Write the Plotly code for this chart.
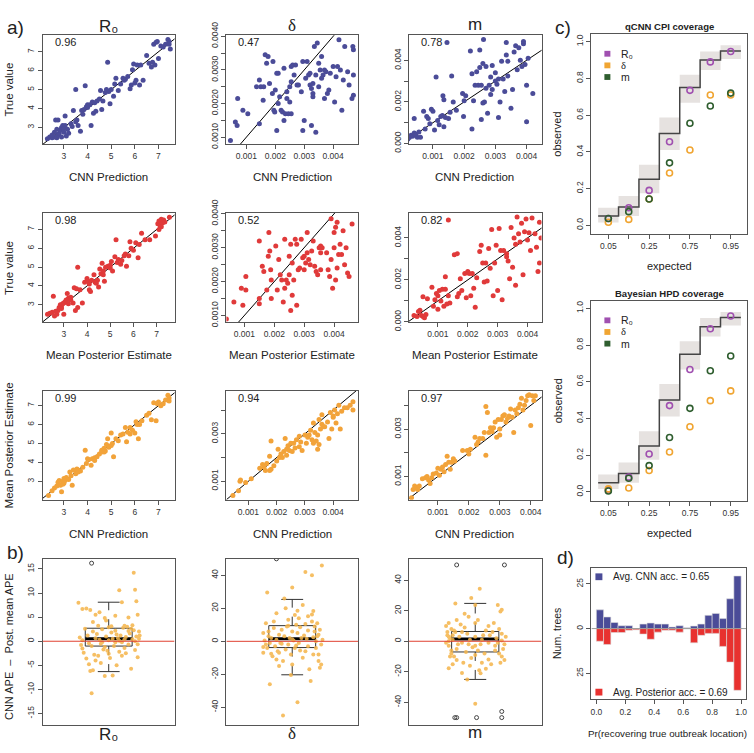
import plotly.graph_objects as go

W, H = 754, 753
FONT = "Liberation Sans, Arial, sans-serif"
SERIF = "Liberation Serif, Times New Roman, serif"
AX_COL = "#555555"
TXT = "#222222"
TICK_FONT = dict(family=FONT, size=8.5, color="#333333")

BLUE = "#4B4C98"
RED = "#E03A3A"
ORANGE = "#F2A33A"
JIT = "#F5B54A"
PURPLE = "#A050B0"
CORANGE = "#F0A532"
GREEN = "#2F5E2F"

# ---------------- DATA ----------------
# panel a, row 1: CNN prediction (x) vs true value (y)
r0_cnn_true = [(2.3,2.4),(2.4,2.5),(2.5,2.45),(2.6,2.5),(2.7,2.45),(2.75,2.6),(2.8,2.7),(2.6,2.75),(2.7,2.9),(2.65,3.4),
               (2.75,3.4),(2.85,2.85),(2.9,3.0),(2.95,3.1),(3.0,2.95),(3.05,3.1),(3.1,2.55),(3.0,2.75),(3.05,3.6),(3.2,2.7),
               (3.3,3.2),(3.35,3.05),(3.4,3.9),(3.5,3.3),(3.55,3.4),(3.5,5.0),(3.6,3.1),(3.7,2.8),(3.75,3.9),(3.85,3.95),
               (3.9,5.2),(3.95,4.1),(4.0,4.05),(4.1,4.2),(4.15,3.1),(4.2,4.35),(4.3,4.3),(4.25,3.75),(4.35,3.85),(4.4,4.4),
               (4.55,4.95),(4.6,3.95),(4.65,4.4),(4.75,4.85),(4.8,5.0),(4.85,6.45),(4.9,4.9),(4.95,4.25),(5.0,5.0),(5.1,4.65),
               (5.15,5.3),(5.2,5.6),(5.3,4.95),(5.4,5.3),(5.55,5.5),(5.6,5.55),(5.7,5.7),(5.8,5.05),(5.85,5.25),(5.9,6.05),
               (5.95,6.35),(6.0,5.35),(6.05,5.5),(6.1,6.3),(6.2,5.25),(6.25,6.3),(6.35,5.5),(6.5,6.8),(6.6,6.4),(6.7,6.2),
               (6.75,6.45),(6.8,7.4),(6.85,6.3),(6.9,7.5),(6.95,7.55),(7.0,6.65),(7.1,7.3),(7.2,7.25),(7.3,7.4),(7.4,7.65),
               (7.45,7.55),(7.5,7.15),(7.45,7.4),(2.5,2.6),(2.9,2.5),(3.15,2.9),(4.5,4.5),(5.5,5.6),(4.0,4.2),(3.8,3.7)]
# delta and m values are in units of 1e-3
delta_cnn_true = [(0.45,0.9),(0.62,1.45),(0.68,1.35),(0.7,2.15),(0.88,1.8),(1.05,1.7),(1.45,1.4),(1.35,2.5),(1.45,2.7),(1.5,2.5),
                  (1.6,2.5),(1.58,2.1),(1.65,3.45),(1.7,3.2),(1.75,3.4),(1.8,2.6),(1.9,2.3),(1.92,3.25),(1.95,1.8),(1.98,1.75),
                  (2.0,2.4),(2.05,1.2),(2.1,2.9),(2.1,2.0),(2.15,2.2),(2.2,1.8),(2.25,1.75),(2.3,1.5),(2.3,3.05),(2.35,1.7),
                  (2.4,2.35),(2.4,2.15),(2.45,1.7),(2.5,2.05),(2.5,2.5),(2.55,1.7),(2.55,2.65),(2.55,3.1),(2.6,3.15),(2.65,2.85),
                  (2.7,3.15),(2.75,2.55),(2.8,2.55),(2.9,2.35),(2.95,3.25),(2.95,1.2),(3.0,1.5),(3.05,2.75),(3.1,3.25),(3.15,2.85),
                  (3.2,2.9),(3.2,2.55),(3.25,2.45),(3.25,1.35),(3.3,2.3),(3.3,2.2),(3.35,3.7),(3.4,2.85),(3.4,1.15),(3.45,3.8),
                  (3.5,3.2),(3.5,2.5),(3.55,3.0),(3.6,3.4),(3.65,2.85),(3.7,2.15),(3.7,3.0),(3.75,2.95),(3.8,2.3),(3.85,2.4),
                  (3.9,2.9),(4.0,3.1),(4.05,2.05),(4.1,2.8),(4.15,3.1),(4.2,3.9),(4.25,3.0),(4.3,1.8),(4.35,2.7),(4.4,3.7),
                  (4.5,2.95),(4.55,2.55),(4.65,2.15),(4.7,3.6),(4.7,2.85),(4.7,2.25),(4.68,3.7),(2.05,2.9),(3.6,2.75),(3.3,2.6)]
m_cnn_true = [(0.2,0.2),(0.25,0.3),(0.3,0.4),(0.35,0.35),(0.4,0.5),(0.45,0.45),(0.5,0.3),(0.55,0.55),(0.4,1.2),(0.6,0.3),
              (0.7,1.55),(0.75,0.7),(0.8,1.3),(0.85,1.2),(0.9,0.95),(0.95,1.65),(1.0,1.55),(1.05,0.65),(1.1,3.2),(1.15,1.1),
              (1.2,0.9),(1.25,1.3),(1.3,1.35),(1.32,2.3),(1.35,2.1),(1.35,0.8),(1.4,1.25),(1.45,4.85),(1.5,1.2),(1.55,1.5),
              (1.6,3.25),(1.65,2.0),(1.75,1.6),(1.95,2.4),(1.98,1.3),(2.0,2.05),(2.05,2.3),(2.2,4.45),(2.25,3.35),(2.25,0.7),
              (2.3,2.05),(2.35,2.8),(2.4,3.45),(2.45,2.8),(2.5,4.5),(2.5,3.65),(2.55,2.8),(2.55,1.15),(2.6,3.85),(2.6,1.95),
              (2.62,5.0),(2.65,2.0),(2.7,3.7),(2.75,1.45),(2.8,2.8),(2.85,3.2),(2.85,2.35),(2.9,3.75),(2.9,2.6),(3.0,3.0),
              (3.05,2.85),(3.1,3.1),(3.1,1.25),(3.15,2.0),(3.2,3.95),(3.25,3.1),(3.3,2.5),(3.35,4.25),(3.35,4.85),(3.4,3.95),
              (3.5,1.7),(3.55,2.6),(3.6,4.4),(3.65,4.7),(3.7,3.55),(3.75,4.6),(3.8,4.0),(3.85,3.7),(3.9,4.8),(3.9,4.9),
              (3.95,3.8),(4.0,1.05),(4.0,2.8),(4.05,4.1),(4.2,2.4),(3.4,3.25),(3.0,3.4),(2.7,2.65)]

# panel a, row 2: mean posterior estimate (x) vs true value (y)
r0_post_true = [(2.3,2.5),(2.4,2.55),(2.5,2.6),(2.55,3.45),(2.6,2.4),(2.7,2.5),(2.75,2.7),(2.8,2.85),(2.85,3.0),(2.9,2.9),
                (2.95,3.05),(3.0,2.5),(3.05,3.15),(3.1,3.25),(3.15,3.6),(3.2,3.35),(3.3,3.4),(3.4,3.1),(3.45,3.9),(3.5,2.7),
                (3.55,3.85),(3.6,5.0),(3.6,2.85),(3.7,3.8),(3.8,3.1),(3.9,4.2),(4.0,4.4),(4.05,4.25),(4.1,3.8),(4.15,3.7),
                (4.2,4.3),(4.3,4.6),(4.35,4.2),(4.45,4.3),(4.5,3.95),(4.55,4.9),(4.6,4.65),(4.65,5.2),(4.7,4.8),(4.75,4.25),
                (4.8,5.0),(4.9,5.05),(5.0,4.95),(5.05,5.3),(5.1,4.8),(5.2,5.55),(5.25,6.45),(5.3,5.25),(5.35,5.4),(5.45,5.15),
                (5.5,5.35),(5.6,5.6),(5.65,5.7),(5.7,5.05),(5.8,5.6),(5.85,6.35),(5.9,6.0),(6.0,5.9),(6.1,6.3),(6.2,5.5),
                (6.25,6.2),(6.35,6.8),(6.5,6.45),(6.7,6.45),(6.95,6.65),(7.05,7.3),(7.1,7.45),(7.15,7.2),(7.2,7.55),(7.25,7.35),
                (7.3,7.5),(7.35,7.4),(7.1,7.0),(7.2,7.15),(7.55,7.65),(2.9,2.8),(3.3,3.25),(4.7,4.6),(5.0,5.1),(4.1,4.1),
                (3.0,3.1),(2.65,2.65),(3.2,3.05),(4.4,4.15)]
delta_post_true = [(0.4,0.9),(0.65,1.4),(0.9,1.8),(0.95,1.3),(1.05,2.15),(1.05,1.75),(1.5,1.5),(1.5,1.35),(1.5,3.2),(1.6,2.45),
                   (1.65,2.3),(1.75,1.75),(1.8,2.75),(1.82,3.45),(1.85,2.9),(1.88,2.35),(1.9,2.05),(1.9,1.5),(2.05,3.05),(2.1,1.75),
                   (2.15,2.65),(2.2,2.2),(2.25,2.05),(2.3,1.4),(2.35,1.8),(2.35,3.25),(2.4,2.05),(2.45,1.95),(2.5,2.75),(2.55,1.15),
                   (2.55,3.1),(2.6,2.55),(2.6,1.6),(2.65,2.05),(2.7,3.25),(2.75,3.1),(2.75,1.3),(2.8,2.35),(2.85,2.4),(2.9,3.25),
                   (2.95,2.7),(3.0,2.35),(3.05,2.55),(3.1,2.85),(3.1,3.45),(3.15,2.65),(3.2,2.5),(3.3,3.2),(3.35,2.45),(3.45,2.2),
                   (3.5,3.0),(3.55,2.35),(3.55,2.85),(3.55,3.05),(3.6,3.0),(3.75,2.85),(3.8,2.35),(3.85,2.15),(3.9,2.65),(3.9,3.85),
                   (3.95,1.8),(4.0,3.0),(4.0,3.45),(4.05,2.05),(4.05,3.6),(4.1,2.4),(4.1,3.75),(4.15,2.8),(4.2,3.1),(4.25,2.8),
                   (4.3,3.5),(4.35,2.5),(4.4,3.0),(4.45,2.25),(4.5,2.15),(4.6,3.7),(3.4,2.3),(3.0,2.75),(2.5,2.2),(3.25,2.9)]
m_post_true = [(0.2,0.3),(0.3,0.25),(0.35,0.5),(0.4,0.55),(0.45,0.3),(0.5,0.25),(0.5,1.2),(0.55,0.2),(0.6,0.35),(0.65,1.1),
               (0.8,1.65),(0.85,0.75),(0.9,1.05),(0.95,1.35),(1.0,0.6),(1.0,1.25),(1.05,1.5),(1.1,1.0),(1.15,1.55),(1.2,0.75),
               (1.25,2.15),(1.25,1.55),(1.3,0.85),(1.35,4.85),(1.35,1.25),(1.4,0.9),(1.55,3.2),(1.65,3.25),(1.65,1.2),(1.7,1.35),
               (1.75,2.05),(1.8,1.5),(1.9,2.3),(1.95,1.15),(2.0,2.4),(2.05,2.3),(2.1,1.25),(2.15,2.3),(2.2,1.6),(2.25,0.7),
               (2.3,2.1),(2.4,3.35),(2.45,3.65),(2.5,2.8),(2.55,1.9),(2.6,2.8),(2.65,1.95),(2.7,3.5),(2.75,2.55),(2.8,4.4),
               (2.85,1.25),(2.9,2.8),(2.95,3.65),(3.0,1.5),(3.05,4.45),(3.1,3.4),(3.15,1.05),(3.2,3.4),(3.3,3.1),(3.35,2.9),
               (3.4,2.05),(3.45,4.5),(3.5,2.6),(3.55,4.0),(3.6,1.75),(3.65,5.0),(3.7,4.2),(3.75,3.8),(3.8,4.7),(3.85,2.25),
               (3.9,4.3),(3.95,4.9),(4.0,3.9),(4.05,4.25),(4.1,3.4),(4.15,4.95),(4.25,4.2),(4.3,3.55),(4.35,2.4),(4.4,2.8),
               (4.45,4.0),(4.4,4.75),(3.3,3.25),(3.6,3.7)]

# panel a, row 3: CNN prediction (x) vs mean posterior estimate (y)
r0_cnn_post = [(2.35,2.25),(2.5,2.5),(2.6,2.65),(2.7,2.75),(2.75,2.95),(2.8,3.05),(2.85,2.8),(2.9,2.45),(2.95,3.0),(3.0,2.9),
               (3.05,3.05),(3.1,3.2),(3.2,3.1),(3.25,3.5),(3.3,3.3),(3.35,2.8),(3.4,3.6),(3.5,3.4),(3.55,3.65),(3.6,3.6),
               (3.7,3.55),(3.8,3.75),(3.9,4.65),(3.95,3.95),(4.0,4.2),(4.05,4.15),(4.15,3.85),(4.2,4.2),(4.3,4.25),(4.4,4.3),
               (4.5,4.45),(4.6,4.55),(4.7,4.75),(4.75,4.6),(4.8,4.95),(4.85,5.25),(4.9,4.85),(5.0,5.55),(5.05,5.0),(5.1,4.3),
               (5.2,5.25),(5.3,5.15),(5.4,5.45),(5.5,5.5),(5.6,5.85),(5.65,5.1),(5.7,5.6),(5.8,5.85),(5.9,5.7),(6.0,5.55),
               (6.05,6.15),(6.15,5.25),(6.2,6.0),(6.3,6.2),(6.5,6.5),(6.6,6.6),(6.7,6.25),(6.8,7.15),(6.9,6.2),(6.95,7.1),
               (7.0,7.2),(7.1,7.0),(7.2,7.1),(7.3,7.3),(7.4,7.55),(7.45,7.25),(4.6,4.65),(3.0,3.15),(2.95,2.85),(5.8,5.5),
               (4.9,4.8),(4.3,4.1),(3.6,3.5),(5.0,4.9),(6.1,6.0),(4.7,4.55),(7.45,7.4)]
delta_cnn_post = [(0.45,0.4),(0.65,0.6),(0.7,1.0),(0.72,1.05),(0.9,0.95),(1.1,1.1),(1.4,1.55),(1.5,1.7),(1.55,1.6),(1.6,1.45),
                  (1.65,1.75),(1.75,1.45),(1.75,2.05),(1.8,2.7),(1.8,1.5),(1.9,1.65),(2.0,1.85),(2.05,2.35),(2.1,2.0),(2.15,2.15),
                  (2.2,2.0),(2.25,2.25),(2.3,2.8),(2.35,2.35),(2.4,2.5),(2.45,2.3),(2.5,2.6),(2.55,2.25),(2.6,2.6),(2.65,2.4),
                  (2.7,2.75),(2.8,2.45),(2.85,2.65),(2.9,2.3),(3.0,2.95),(3.05,2.6),(3.1,2.85),(3.15,2.95),(3.2,3.15),(3.25,2.75),
                  (3.3,3.45),(3.35,3.05),(3.4,2.7),(3.45,2.95),(3.5,3.6),(3.55,3.2),(3.6,3.4),(3.65,3.3),(3.7,3.3),(3.8,3.5),
                  (3.85,2.8),(3.9,3.9),(3.95,3.2),(4.0,3.75),(4.05,4.0),(4.1,3.45),(4.15,3.85),(4.2,4.2),(4.25,3.2),(4.3,3.95),
                  (4.4,4.1),(4.5,4.1),(4.6,4.2),(4.7,4.35),(4.7,4.0),(3.45,2.35),(3.5,2.55),(2.8,2.9),(3.6,3.8),(3.3,2.6),
                  (4.0,3.7),(2.35,2.1)]
m_cnn_post = [(0.15,0.1),(0.2,0.45),(0.25,0.6),(0.3,0.5),(0.35,0.45),(0.4,0.6),(0.5,0.9),(0.6,0.95),(0.65,1.0),(0.7,0.85),
              (0.75,0.7),(0.8,0.95),(0.85,1.1),(0.95,1.15),(1.0,1.35),(1.05,1.05),(1.1,1.3),(1.15,1.4),(1.2,1.2),(1.25,1.5),
              (1.3,1.85),(1.35,1.6),(1.4,1.3),(1.45,1.6),(1.5,1.75),(1.55,1.65),(1.8,2.1),(1.95,2.1),(2.0,1.95),(2.05,2.15),
              (2.2,2.65),(2.25,2.35),(2.3,2.45),(2.35,2.6),(2.45,2.6),(2.5,2.85),(2.55,1.9),(2.55,3.95),(2.6,3.7),(2.65,2.85),
              (2.7,3.05),(2.8,3.05),(2.85,3.3),(2.9,2.65),(2.95,3.4),(3.0,3.0),(3.05,3.4),(3.1,3.55),(3.15,3.6),(3.2,3.3),
              (3.3,3.55),(3.4,3.5),(3.45,2.85),(3.5,3.8),(3.55,3.65),(3.6,3.9),(3.65,4.05),(3.7,4.3),(3.75,3.8),(3.8,4.0),
              (3.85,4.2),(3.9,4.4),(3.95,4.45),(4.0,3.15),(4.05,4.4),(4.15,4.4),(4.1,4.2),(3.35,3.85),(3.0,2.75),(2.75,2.9),
              (3.25,3.45)]

correlations = [["0.96", "0.47", "0.78"], ["0.98", "0.52", "0.82"], ["0.99", "0.94", "0.97"]]

# panel b: CNN APE - posterior mean APE (x = jittered position around 1)
r0_diff = [(0.77,8.0),(0.8,6.7),(0.83,6.8),(0.86,6.5),(0.88,4.0),(0.9,5.5),(0.93,6.0),(0.97,4.8),(1.02,3.1),(1.08,10.6),
           (1.1,8.1),(1.15,4.9),(1.19,14.2),(1.2,10.7),(1.21,8.3),(1.22,5.5),(1.05,5.3),(1.12,3.2),(1.17,2.6),(0.79,-0.8),
           (0.78,0.8),(0.8,-1.5),(0.81,-2.4),(0.83,-3.6),(0.85,-4.8),(0.86,-6.2),(0.87,-1.0),(0.88,2.0),(0.89,-2.8),(0.9,-4.0),
           (0.91,1.5),(0.92,-3.0),(0.93,0.3),(0.94,-0.5),(0.95,2.5),(0.96,-1.7),(0.97,-7.2),(0.98,1.0),(0.99,-2.0),(1.0,0.2),
           (1.01,-3.5),(1.02,1.8),(1.03,-7.1),(1.04,-1.0),(1.05,2.2),(1.06,-5.0),(1.07,0.6),(1.08,-2.2),(1.09,1.2),(1.1,-0.2),
           (1.11,2.8),(1.12,-1.4),(1.13,0.9),(1.14,3.0),(1.15,-0.7),(1.16,1.6),(1.17,-5.7),(1.18,0.4),(1.19,2.3),(1.2,-1.8),
           (1.21,1.0),(1.22,-3.3),(1.23,0.5),(1.235,1.2),(1.23,2.0),(1.22,-0.6),(0.8,0.2),(0.84,1.2),(0.9,0.6),(0.95,-0.2),
           (1.0,2.9),(1.03,0.5),(1.06,1.4),(1.08,0.1),(1.12,0.4),(1.15,2.1),(0.85,-0.4),(0.92,3.2),(0.97,-1.2),(1.0,-2.6),
           (1.1,-3.0),(0.88,-6.0),(0.94,-4.5),(1.05,-0.2),(0.87,-10.8),(0.98,4.3),(1.13,-2.5),(0.82,2.6),(1.2,0.0),(1.18,3.3)]
delta_diff = [(1.225,46),(1.10,42),(1.15,40),(1.0,32.6),(0.81,29.6),(1.16,18.4),(1.15,16.3),(1.12,15.2),(1.05,14),(0.97,13),
              (0.88,17),(0.8,11),(1.19,11),(0.78,5),(0.8,-2),(0.78,-7),(0.83,-26),(1.04,-37),(0.93,-45),(0.99,-20.5),
              (1.2,-12),(1.22,-14),(1.21,-16),(1.18,-4),(1.19,3),(1.17,6),(1.16,-8),(1.13,-17),(1.1,-6),(1.08,-10),
              (1.07,2),(1.06,8.5),(1.05,-1),(1.04,5),(1.03,10),(1.02,-4),(1.01,0.5),(1.0,6),(0.99,-8),(0.98,2),
              (0.97,-2),(0.96,9),(0.95,-5),(0.94,3),(0.93,-12),(0.92,7),(0.91,-1),(0.9,4),(0.89,-6),(0.88,1),
              (0.87,-3),(0.86,8),(0.85,-9),(0.84,2),(0.83,-1),(0.82,6),(0.81,-4),(0.79,0.5),(0.78,-3.5),(1.23,1),
              (1.22,-2),(1.21,7),(1.2,4),(1.18,0),(1.15,12),(1.12,-3),(1.11,1.5),(1.09,3.5),(1.0,-14),(0.95,20),
              (0.9,-15),(1.08,22),(1.02,16),(0.86,12),(1.14,-24),(0.92,-1.5),(0.97,9.5),(1.06,-5.5),(1.12,6.5),(0.84,-7.5),
              (1.1,10.5),(0.88,-11),(1.17,9),(0.94,26),(1.03,-2.5),(1.2,-8),(0.82,3),(1.0,1.2),(1.16,2.5),(0.9,-7),(1.04,18.5)]
m_diff = [(1.034,34.4),(0.97,28.4),(0.85,24.8),(1.0,23.8),(1.17,23.8),(1.2,20.6),(1.19,19.5),(1.02,14),(0.8,12),(0.78,10),
          (0.82,8),(0.85,6),(0.79,4),(0.8,3),(0.81,2),(0.83,1),(0.78,-1),(0.8,-3),(0.82,-6),(0.84,-10),
          (0.86,-12.3),(0.8,-17.6),(0.83,-15),(0.9,-20.8),(0.94,-25),(1.0,-41),(1.22,-12.3),(1.2,-10),(1.18,-8),(1.21,-5),
          (1.15,-3),(1.16,2),(1.2,5),(1.18,8),(1.14,12),(1.1,10),(1.08,7),(1.06,4),(1.04,-2),(1.02,-6),
          (1.0,-9),(0.98,-4),(0.96,1),(0.94,5),(0.92,9),(0.9,-1),(0.88,3),(0.86,-5),(0.84,7),(0.82,-8),
          (1.12,-15),(1.1,-12),(1.08,-18),(1.05,-14),(1.03,-19),(0.97,-11),(0.93,-7),(0.91,-14),(0.87,-2),(0.89,11),
          (0.95,16),(1.0,3),(1.05,1),(1.1,-1),(1.15,-6),(1.2,0.5),(1.23,3),(1.22,-2),(0.79,6),(0.81,-10),
          (0.83,4),(0.9,6),(0.95,-2),(1.0,12),(1.07,-8),(1.13,6),(1.17,-1),(0.86,14),(0.92,18),(1.04,-21),
          (1.11,4),(0.96,-16),(0.8,0),(1.0,-3),(1.19,-14)]
# box stats: lower whisker, Q1, median, Q3, upper whisker
r0_box = [-6.3, -1.0, 0.5, 2.7, 8.1]
delta_box = [-20.3, -3.8, 1.5, 9.5, 25.4]
m_box = [-25.0, -7.0, 1.5, 6.4, 24.8]
r0_out = [(0.87, 16.2)]
delta_out = [(0.88, 50.0)]
m_out = [(0.86, 50.0), (1.22, 50.0), (0.846, -50.0), (0.86, -50.0), (1.01, -50.0), (1.20, -50.0), (1.20, -46.0)]

# panel c: coverage
nominal_labels = ["0.05", "0.25", "0.75", "0.95"]
nominal = [0.05, 0.1, 0.25, 0.5, 0.75, 0.9, 0.95]
ci_lo = [0.015, 0.05, 0.175, 0.41, 0.667, 0.846, 0.906]
ci_hi = [0.095, 0.16, 0.33, 0.587, 0.82, 0.947, 0.98]
cnn_cov_r0 = [0.037, 0.095, 0.19, 0.455, 0.735, 0.89, 0.947]
cnn_cov_delta = [0.016, 0.032, 0.143, 0.285, 0.41, 0.71, 0.71]
cnn_cov_m = [0.037, 0.074, 0.143, 0.34, 0.556, 0.65, 0.72]
bay_cov_r0 = [0.01, 0.08, 0.206, 0.47, 0.667, 0.889, 0.958]
bay_cov_delta = [0.016, 0.021, 0.116, 0.217, 0.355, 0.497, 0.55]
bay_cov_m = [0.005, 0.074, 0.143, 0.296, 0.455, 0.66, 0.74]

# panel d: histogram of Pr(recovering true outbreak location)
bin_edges = [round(0.05 * i, 2) for i in range(21)]
cnn_hist = [10.5, 6.5, 3.4, 1.6, 1.6, 0.0, 2.5, 3.1, 2.5, 2.5, 0.9, 1.6, 0.5, 1.4, 2.5, 7.4, 8.5, 5.6, 16.7, 29.5]
post_hist = [7.1, 8.9, 2.2, 2.2, 0.9, 0.7, 3.1, 6.0, 2.0, 0.9, 0.9, 2.0, 0.0, 8.0, 3.8, 2.7, 2.7, 10.0, 18.8, 34.6]

# ---------------- FIGURE ----------------
fig = go.Figure()
layout = dict(width=W, height=H, margin=dict(l=0, r=0, t=0, b=0),
              paper_bgcolor="white", plot_bgcolor="white", showlegend=False,
              barmode="overlay", annotations=[], shapes=[],
              font=dict(family=FONT, color=TXT))


def ids(i):
    s = "" if i == 1 else str(i)
    return "xaxis" + s, "yaxis" + s, "x" + s, "y" + s


def make_axes(i, xpx, ypx, xr, yr, xt=None, xtt=None, yt=None, ytt=None, xminor=None, yminor=None):
    xa, ya, xs, ys = ids(i)
    base = dict(showline=True, mirror=True, linecolor=AX_COL, linewidth=1,
                ticks="outside", ticklen=4, tickcolor=AX_COL, tickwidth=1,
                showgrid=False, zeroline=False, tickfont=TICK_FONT, fixedrange=True)
    layout[xa] = dict(base, domain=[xpx[0] / W, xpx[1] / W], range=xr, anchor=ys)
    layout[ya] = dict(base, domain=[1 - ypx[1] / H, 1 - ypx[0] / H], range=yr,
                      anchor=xs, tickangle=-90)
    if xt is None:
        layout[xa].update(ticks="", showticklabels=False)
    else:
        layout[xa].update(tickmode="array", tickvals=xt, ticktext=xtt)
    if yt is None:
        layout[ya].update(ticks="", showticklabels=False)
    else:
        layout[ya].update(tickmode="array", tickvals=yt, ticktext=ytt)
    minor_style = dict(ticks="outside", ticklen=4, tickcolor=AX_COL, tickwidth=1, showgrid=False)
    if xminor:
        layout[xa]["minor"] = dict(minor_style, tickmode="array", tickvals=xminor)
    if yminor:
        layout[ya]["minor"] = dict(minor_style, tickmode="array", tickvals=yminor)
    return xs, ys


def ann(text, x, y, size=11, xanchor="center", yanchor="middle", angle=0, family=FONT, color=TXT):
    layout["annotations"].append(dict(text=text, x=x / W, y=1 - y / H, xref="paper", yref="paper",
                                      showarrow=False, xanchor=xanchor, yanchor=yanchor,
                                      textangle=angle, font=dict(family=family, size=size, color=color)))


def prect(x0, y0, x1, y1, color):
    layout["shapes"].append(dict(type="rect", xref="paper", yref="paper",
                                 x0=x0 / W, x1=x1 / W, y0=1 - y1 / H, y1=1 - y0 / H,
                                 fillcolor=color, line=dict(width=0)))


cols_px = [(42, 174), (226, 358), (409, 542)]
rows_px = [(22, 134), (205, 318), (389, 501)]

R0_T = [3, 4, 5, 6, 7]
R0_L = ["3", "4", "5", "6", "7"]
S = 1e-3
SM_T = [0.001, 0.002, 0.003, 0.004]
SM_L = ["0.001", "0.002", "0.003", "0.004"]
D12_T = [0.001, 0.002, 0.003, 0.004]
D12_L = ["0.0010", "0.0020", "0.0030", "0.0040"]
D12_MINOR = [0.0015, 0.0025, 0.0035]
M12_T = [0.0, 0.002, 0.004]
M12_L = ["0.000", "0.002", "0.004"]
M12_MINOR = [0.001, 0.003]
R3_T = [0.001, 0.003]
R3_L = ["0.001", "0.003"]
R3_MINOR = [0.002, 0.004]

panels = [
    # (data, scale, color, xr, yr, xt, xtt, yt, ytt, yminor)
    (r0_cnn_true, 1, BLUE, [2.11, 7.68], [2.13, 7.87], R0_T, R0_L, R0_T, R0_L, None),
    (delta_cnn_true, S, BLUE, [0.00031, 0.00486], [0.0008, 0.00403], SM_T, SM_L, D12_T, D12_L, D12_MINOR),
    (m_cnn_true, S, BLUE, [0.00023, 0.00448], [-0.00002, 0.0052], SM_T, SM_L, M12_T, M12_L, M12_MINOR),
    (r0_post_true, 1, RED, [2.10, 7.77], [2.07, 7.89], R0_T, R0_L, R0_T, R0_L, None),
    (delta_post_true, S, RED, [0.0004, 0.0048], [0.0008, 0.00403], SM_T, SM_L, D12_T, D12_L, D12_MINOR),
    (m_post_true, S, RED, [0.00003, 0.00447], [-0.00002, 0.0052], SM_T, SM_L, M12_T, M12_L, M12_MINOR),
    (r0_cnn_post, 1, ORANGE, [2.11, 7.68], [2.03, 7.77], R0_T, R0_L, R0_T, R0_L, None),
    (delta_cnn_post, S, ORANGE, [0.00022, 0.00488], [0.00022, 0.0048], SM_T, SM_L, R3_T, R3_L, R3_MINOR),
    (m_cnn_post, S, ORANGE, [0.000065, 0.00435], [0.00002, 0.0046], SM_T, SM_L, R3_T, R3_L, R3_MINOR),
]

axis_i = 0
for k, (data, sc, col, xr, yr, xt, xtt, yt, ytt, ymin) in enumerate(panels):
    axis_i += 1
    r, c = divmod(k, 3)
    xs, ys = make_axes(axis_i, cols_px[c], rows_px[r], xr, yr, xt, xtt, yt, ytt, yminor=ymin)
    px = [p[0] * sc for p in data]
    py = [p[1] * sc for p in data]
    lo = min(xr[0], yr[0])
    hi = max(xr[1], yr[1])
    fig.add_trace(go.Scatter(x=[lo, hi], y=[lo, hi], mode="lines", xaxis=xs, yaxis=ys,
                             line=dict(color="black", width=1), hoverinfo="skip"))
    fig.add_trace(go.Scatter(x=px, y=py, mode="markers", xaxis=xs, yaxis=ys,
                             marker=dict(color=col, size=5, line=dict(width=0))))
    ann(correlations[r][c], cols_px[c][0] + 10, rows_px[r][0] + 7, size=11, xanchor="left")

# panel b
b_px_y = (562, 733)
b_sets = [
    (r0_diff, r0_box, r0_out, [-17.3, 17.1], [-15, -10, -5, 0, 5, 10, 15]),
    (delta_diff, delta_box, delta_out, [-50.5, 50.0], [-40, -20, 0, 20, 40]),
    (m_diff, m_box, m_out, [-54.6, 54.0], [-40, -20, 0, 20, 40]),
]
BOXW = 0.178
CAPW = 0.083
for c, (pts, bx, outs, yr, yt) in enumerate(b_sets):
    axis_i += 1
    xs, ys = make_axes(axis_i, cols_px[c], b_px_y, [0.5, 1.5], yr, None, None, yt, [str(v) for v in yt])
    lw, q1, med, q3, uw = bx
    fig.add_trace(go.Scatter(x=[1, 1, None, 1, 1], y=[q3, uw, None, q1, lw], mode="lines",
                             xaxis=xs, yaxis=ys, line=dict(color="#333333", width=1, dash="dash")))
    fig.add_trace(go.Scatter(x=[1 - CAPW, 1 + CAPW, None, 1 - CAPW, 1 + CAPW], y=[uw, uw, None, lw, lw],
                             mode="lines", xaxis=xs, yaxis=ys, line=dict(color="#333333", width=1)))
    fig.add_trace(go.Scatter(x=[1 - BOXW, 1 + BOXW, 1 + BOXW, 1 - BOXW, 1 - BOXW], y=[q1, q1, q3, q3, q1],
                             mode="lines", xaxis=xs, yaxis=ys, line=dict(color="#333333", width=1)))
    fig.add_trace(go.Scatter(x=[1 - BOXW, 1 + BOXW], y=[med, med], mode="lines", xaxis=xs, yaxis=ys,
                             line=dict(color="black", width=3)))
    fig.add_trace(go.Scatter(x=[o[0] for o in outs], y=[o[1] for o in outs], mode="markers",
                             xaxis=xs, yaxis=ys,
                             marker=dict(symbol="circle-open", size=4, color="#444444", line=dict(width=1))))
    fig.add_trace(go.Scatter(x=[p[0] for p in pts], y=[p[1] for p in pts], mode="markers",
                             xaxis=xs, yaxis=ys, opacity=0.85,
                             marker=dict(color=JIT, size=4, line=dict(width=0))))
    fig.add_trace(go.Scatter(x=[0.5, 1.5], y=[0, 0], mode="lines", xaxis=xs, yaxis=ys,
                             line=dict(color="#E04030", width=1)))

# panel c
c_x = (592, 748)
c_sets = [
    ((21, 227), cnn_cov_r0, cnn_cov_delta, cnn_cov_m, "qCNN CPI coverage"),
    ((296, 502), bay_cov_r0, bay_cov_delta, bay_cov_m, "Bayesian HPD coverage"),
]
idx = list(range(1, len(nominal) + 1))
for (ypx, cr0, cde, cm, title) in c_sets:
    axis_i += 1
    xs, ys = make_axes(axis_i, c_x, ypx, [0.17, 7.8], [-0.048, 1.04], idx[::2], nominal_labels,
                       [0, 0.2, 0.4, 0.6, 0.8, 1.0], ["0.0", "0.2", "0.4", "0.6", "0.8", "1.0"],
                       xminor=idx[1::2])
    fig.add_trace(go.Bar(x=idx, y=[h - l for l, h in zip(ci_lo, ci_hi)], base=ci_lo, width=1.0,
                         xaxis=xs, yaxis=ys, marker=dict(color="#E6E2E0", line=dict(width=0))))
    fig.add_trace(go.Scatter(x=[i - 0.5 for i in idx] + [idx[-1] + 0.5], y=nominal + [nominal[-1]],
                             mode="lines", line_shape="hv", xaxis=xs, yaxis=ys,
                             line=dict(color="#444444", width=1.5)))
    for vals, col in ((cr0, PURPLE), (cde, CORANGE), (cm, GREEN)):
        fig.add_trace(go.Scatter(x=idx, y=vals, mode="markers", xaxis=xs, yaxis=ys,
                                 marker=dict(symbol="circle-open", size=6, color=col, line=dict(width=1.6))))
    ann("<b>" + title + "</b>", 670, ypx[0] - 8, size=9.5)
    ann("observed", 558, (ypx[0] + ypx[1]) / 2, size=11, angle=-90)
    ann("expected", 670, ypx[1] + 33, size=11)
    for j, (lab, col, fam) in enumerate((("R\u2080", PURPLE, FONT), ("δ", CORANGE, SERIF), ("m", GREEN, FONT))):
        yy = ypx[0] + 20 + 12 * j
        prect(605, yy - 3, 611, yy + 3, col)
        ann(lab, 620, yy, size=10.5, xanchor="left", family=fam)

# panel d
axis_i += 1
d_x = (592, 747)
d_y = (571, 707)
xs, ys = make_axes(axis_i, d_x, d_y, [-0.034, 1.034], [-39.7, 34.2],
                   [0, 0.2, 0.4, 0.6, 0.8, 1.0], ["0.0", "0.2", "0.4", "0.6", "0.8", "1.0"],
                   [-25, 0, 25], ["25", "0", "25"])
centers = [(a + b) / 2 for a, b in zip(bin_edges[:-1], bin_edges[1:])]
fig.add_trace(go.Bar(x=centers, y=cnn_hist, width=0.05, xaxis=xs, yaxis=ys,
                     marker=dict(color=BLUE, line=dict(color="#DDDDDD", width=0.6))))
fig.add_trace(go.Bar(x=centers, y=[-v for v in post_hist], width=0.05, xaxis=xs, yaxis=ys,
                     marker=dict(color="#E8312F", line=dict(color="#DDDDDD", width=0.6))))
fig.add_trace(go.Scatter(x=[-0.034, 1.034], y=[0, 0], mode="lines", xaxis=xs, yaxis=ys,
                         line=dict(color="#999999", width=1)))
prect(596, 577, 603, 584, BLUE)
ann("Avg. CNN acc. = 0.65", 612, 580, size=10, xanchor="left")
prect(596, 696, 603, 703, "#E8312F")
ann("Avg. Posterior acc. = 0.69", 612, 700, size=10, xanchor="left")
ann("Num. trees", 558, 639, size=10.5, angle=-90)
ann("Pr(recovering true outbreak location)", 668, 742, size=9.8)

# text labels
ann("a)", 4, 14, size=19, xanchor="left")
ann("b)", 4, 555, size=19, xanchor="left")
ann("c)", 553, 14, size=19, xanchor="left")
ann("d)", 555, 561, size=19, xanchor="left")
col_c = [108, 292, 475]
ann("R\u2080", col_c[0], 13, size=17)
ann("δ", col_c[1], 12, size=17, family=SERIF)
ann("m", col_c[2], 11, size=17)
for c in range(3):
    ann("CNN Prediction", col_c[c], 168, size=11.5)
    ann("Mean Posterior Estimate", col_c[c], 352, size=11.5)
    ann("CNN Prediction", col_c[c], 536, size=11.5)
ann("True value", 8, 78, size=11.5, angle=-90)
ann("True value", 8, 262, size=11.5, angle=-90)
ann("Mean Posterior Estimate", 8, 445, size=11.5, angle=-90)
ann("CNN APE  \u2013  Post. mean APE", 8, 652, size=11, angle=-90)
ann("R\u2080", col_c[0], 743, size=17)
ann("δ", col_c[1], 742, size=17, family=SERIF)
ann("m", col_c[2], 741, size=17)

fig.update_layout(**layout)
fig.write_html("out.html", config={"displayModeBar": False},
               post_script="document.body.style.margin='0';document.body.style.overflow='hidden';")
